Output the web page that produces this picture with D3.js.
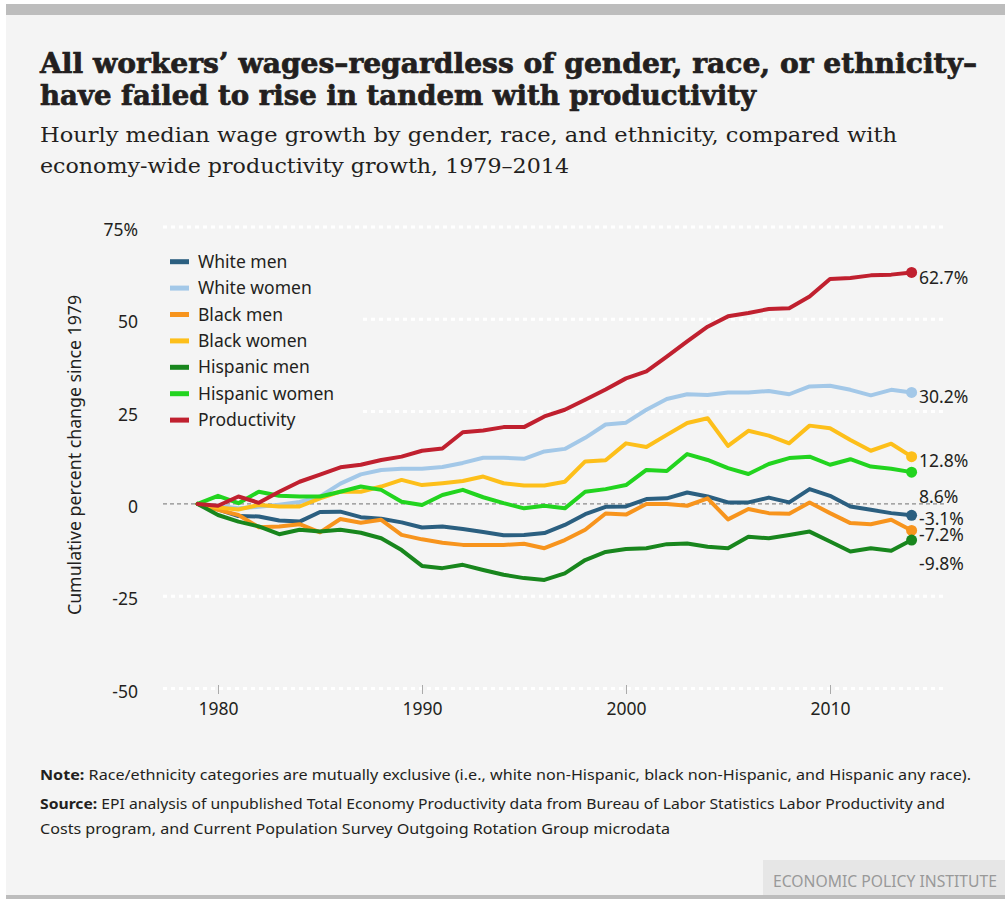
<!DOCTYPE html>
<html>
<head>
<meta charset="utf-8">
<script src="https://cdn.jsdelivr.net/npm/d3@7"></script>
<style>
  html, body { margin: 0; padding: 0; background: #fff; }
  svg { display: block; }
  text { fill: #231f20; font-family: "Noto Sans", sans-serif; }
</style>
</head>
<body>
<svg id="chart" width="1005" height="899"></svg>
<script>
// values, cumulative % change since 1979
const years = d3.range(1979, 2015);
const whiteMen = [0, -1.5, -3.3, -3.4, -4.5, -4.8, -2.2, -2.1, -3.6, -4, -5, -6.4, -6.1, -6.8, -7.6, -8.5, -8.4, -7.9, -5.7, -2.8, -0.8, -0.7, 1.3, 1.5, 3.1, 2.0, 0.4, 0.4, 1.7, 0.4, 4.0, 2.2, -0.7, -1.6, -2.5, -3.1];
const whiteWomen = [0, -0.5, -1.2, -0.8, -0.2, 0.5, 2, 5.5, 8, 9.2, 9.5, 9.5, 10, 11.1, 12.5, 12.5, 12.2, 14.2, 14.9, 17.9, 21.5, 22, 25.5, 28.4, 29.7, 29.5, 30.2, 30.2, 30.6, 29.7, 31.8, 32, 30.9, 29.4, 30.9, 30.2];
const blackMen = [0, -1.6, -3, -6.3, -6.1, -5.5, -7.7, -4.1, -5.1, -4.3, -8.4, -9.6, -10.5, -11.1, -11.1, -11.1, -10.8, -12, -9.8, -7, -2.6, -2.9, 0, 0, -0.5, 1.5, -4.2, -1.4, -2.5, -2.7, 0.4, -2.5, -5.2, -5.5, -4.3, -7.2];
const blackWomen = [0, -1, -1.5, -0.3, -0.7, -0.7, 1.5, 3.3, 3.3, 4.7, 6.5, 5.1, 5.6, 6.2, 7.4, 5.6, 5, 5, 6, 11.5, 11.8, 16.4, 15.4, 18.7, 21.9, 23.2, 15.7, 19.8, 18.5, 16.4, 21.2, 20.5, 17.3, 14.4, 16.3, 12.8];
const hispanicMen = [0, -3, -4.8, -6.1, -8.2, -7, -7.5, -7, -7.8, -9.3, -12.5, -16.8, -17.4, -16.5, -17.9, -19.2, -20.1, -20.6, -18.8, -15.2, -13, -12.2, -12, -10.9, -10.7, -11.6, -12, -8.9, -9.3, -8.4, -7.5, -10.2, -12.9, -12, -12.7, -9.8];
const hispanicWomen = [0, 2.2, 0.2, 3.3, 2.2, 2, 2, 3.3, 4.7, 3.8, 0.6, -0.3, 2.4, 3.8, 1.8, 0.2, -1.2, -0.5, -1.2, 3.3, 4, 5.1, 9.2, 8.9, 13.5, 11.9, 9.7, 8.1, 10.8, 12.4, 12.8, 10.6, 12.1, 10.1, 9.5, 8.6];
const productivity = [0, -0.5, 2, 0.3, 3.3, 6, 7.9, 9.9, 10.6, 11.9, 12.8, 14.4, 15, 19.4, 19.9, 20.8, 20.8, 23.7, 25.5, 28.2, 31, 34, 35.9, 39.9, 44, 48, 50.8, 51.7, 52.8, 53, 56.2, 60.9, 61.2, 61.9, 62.1, 62.7];

const names = ["White men", "White women", "Black men", "Black women", "Hispanic men", "Hispanic women", "Productivity"];
const endLabels = ["-3.1%", "30.2%", "-7.2%", "12.8%", "-9.8%", "8.6%", "62.7%"];
const yTicks = [-50, -25, 0, 25, 50, 75];
const xTicks = [1980, 1990, 2000, 2010];

const colors = ["#2b5f80", "#a3c8e8", "#f7941d", "#fdbf1a", "#18861d", "#22d41f", "#c0202f"];
const labelDy = [4, 4, 4, 4, 24, 25, 5];

const series = [whiteMen, whiteWomen, blackMen, blackWomen, hispanicMen, hispanicWomen, productivity]
  .map((values, i) => ({ name: names[i], values, color: colors[i], label: endLabels[i], dy: labelDy[i] }));

const bg = "#f4f4f4";
const svg = d3.select("#chart");

// panel + frame bars
svg.append("rect").attr("x", 6).attr("y", 4).attr("width", 999).attr("height", 893).attr("fill", bg);
svg.append("rect").attr("x", 6).attr("y", 4).attr("width", 999).attr("height", 11).attr("fill", "#bdbdbd");
svg.append("rect").attr("x", 6).attr("y", 895).attr("width", 999).attr("height", 4).attr("fill", "#bdbdbd");
svg.append("rect").attr("x", 763).attr("y", 860).attr("width", 242).attr("height", 35).attr("fill", "#e6e6e6");
svg.append("text").attr("x", 773).attr("y", 887)
  .attr("font-size", 16).attr("textLength", 224).attr("lengthAdjust", "spacingAndGlyphs")
  .style("fill", "#999").text("ECONOMIC POLICY INSTITUTE");

// titles
const title = svg.append("g");
title.append("text").attr("x", 40).attr("y", 73).attr("font-size", 28).attr("font-weight", "bold")
  .style("font-family", "DejaVu Serif").style("stroke", "#231f20").style("stroke-width", 0.7)
  .attr("textLength", 937).attr("lengthAdjust", "spacingAndGlyphs")
  .text("All workers’ wages–regardless of gender, race, or ethnicity–");
title.append("text").attr("x", 40).attr("y", 105).attr("font-size", 28).attr("font-weight", "bold")
  .style("font-family", "DejaVu Serif").style("stroke", "#231f20").style("stroke-width", 0.7)
  .attr("textLength", 716).attr("lengthAdjust", "spacingAndGlyphs")
  .text("have failed to rise in tandem with productivity");
title.append("text").attr("x", 40).attr("y", 142).attr("font-size", 21)
  .style("font-family", "DejaVu Serif")
  .attr("textLength", 857).attr("lengthAdjust", "spacingAndGlyphs")
  .text("Hourly median wage growth by gender, race, and ethnicity, compared with");
title.append("text").attr("x", 40).attr("y", 173).attr("font-size", 21)
  .style("font-family", "DejaVu Serif")
  .attr("textLength", 529).attr("lengthAdjust", "spacingAndGlyphs")
  .text("economy-wide productivity growth, 1979–2014");

const x = d3.scaleLinear().domain([1979, 2014]).range([197.6, 911.6]);
const y = d3.scaleLinear().domain([-50, 75]).range([688.5, 227]);

// grid
const grid = svg.append("g");
grid.selectAll("line").data(yTicks).enter().append("line")
  .attr("x1", 163).attr("x2", 946)
  .attr("y1", d => y(d)).attr("y2", d => y(d))
  .attr("stroke", d => d === 0 ? "#8a8a8a" : "#fff")
  .attr("stroke-width", d => d === 0 ? 1.3 : 3)
  .attr("stroke-dasharray", d => d === 0 ? "4,3" : "4,4");

// y axis
const yAxis = svg.append("g").attr("transform", "translate(138,3)")
  .call(d3.axisLeft(y).tickValues(yTicks).tickSize(0).tickPadding(0)
    .tickFormat(d => d === 75 ? "75%" : String(d)));
yAxis.select(".domain").remove();
yAxis.selectAll("text").attr("font-size", 17.5).attr("font-family", "Noto Sans").style("fill", "#231f20");

svg.append("text").attr("transform", "translate(81,455) rotate(-90)")
  .attr("text-anchor", "middle").attr("font-size", 17.5)
  .attr("textLength", 320).attr("lengthAdjust", "spacingAndGlyphs")
  .text("Cumulative percent change since 1979");

// x axis
const xAxis = svg.append("g").attr("transform", "translate(0,685)")
  .call(d3.axisBottom(x).tickValues(xTicks).tickSize(9).tickPadding(9).tickFormat(d3.format("d")));
xAxis.select(".domain").remove();
xAxis.selectAll("line").attr("stroke", "#aaa");
xAxis.selectAll("text").attr("font-size", 17.5).attr("font-family", "Noto Sans").style("fill", "#231f20");

// legend
const legend = svg.append("g");
legend.append("rect").attr("x", 160).attr("y", 242).attr("width", 202).attr("height", 192).attr("fill", bg);
const items = legend.selectAll("g.item").data(series).enter().append("g")
  .attr("transform", (d, i) => `translate(0,${261.7 + i * 26.4})`);
items.append("line").attr("x1", 170).attr("x2", 189)
  .attr("stroke", d => d.color).attr("stroke-width", 5);
items.append("text").attr("x", 198).attr("dy", "0.35em").attr("font-size", 17.5).text(d => d.name);

// lines
const line = d3.line().x((d, i) => x(years[i])).y(d => y(d));
const plot = svg.append("g");
plot.selectAll("path").data(series).enter().append("path")
  .attr("d", d => line(d.values))
  .attr("fill", "none").attr("stroke", d => d.color).attr("stroke-width", 4)
  .attr("stroke-linejoin", "round").attr("stroke-linecap", "round");

plot.selectAll("circle").data(series).enter().append("circle")
  .attr("cx", x(2014)).attr("cy", d => y(d.values[d.values.length - 1]))
  .attr("r", 5.5).attr("fill", d => d.color);

plot.selectAll("text").data(series).enter().append("text")
  .attr("x", 919).attr("y", d => y(d.values[d.values.length - 1]) + d.dy)
  .attr("dy", "0.35em").attr("font-size", 17.5).text(d => d.label);

// notes
const notes = svg.append("g").attr("font-size", 15);
const n1 = notes.append("text").attr("x", 40).attr("y", 780)
  .attr("textLength", 931).attr("lengthAdjust", "spacingAndGlyphs");
n1.append("tspan").attr("font-weight", "bold").text("Note: ");
n1.append("tspan").text("Race/ethnicity categories are mutually exclusive (i.e., white non-Hispanic, black non-Hispanic, and Hispanic any race).");
const n2 = notes.append("text").attr("x", 40).attr("y", 809)
  .attr("textLength", 905).attr("lengthAdjust", "spacingAndGlyphs");
n2.append("tspan").attr("font-weight", "bold").text("Source: ");
n2.append("tspan").text("EPI analysis of unpublished Total Economy Productivity data from Bureau of Labor Statistics Labor Productivity and");
notes.append("text").attr("x", 40).attr("y", 834)
  .attr("textLength", 630).attr("lengthAdjust", "spacingAndGlyphs")
  .text("Costs program, and Current Population Survey Outgoing Rotation Group microdata");
</script>
</body>
</html>
